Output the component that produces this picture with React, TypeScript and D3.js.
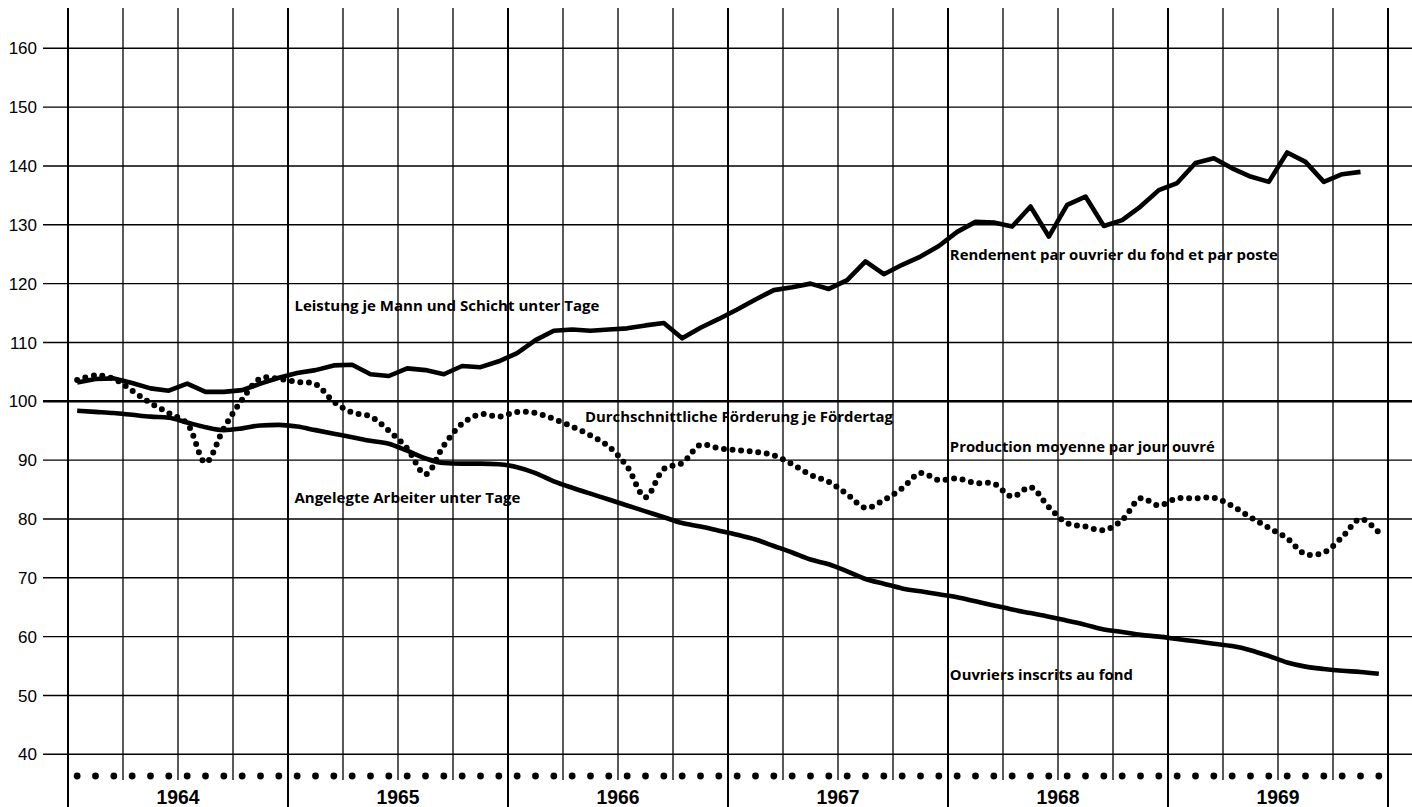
import React from "react";
import * as d3 from "d3";

const years = ["1964", "1965", "1966", "1967", "1968", "1969"];
const yTicks = [40, 50, 60, 70, 80, 90, 100, 110, 120, 130, 140, 150, 160];

// Leistung je Mann und Schicht unter Tage (Jan 1964 - Nov 1969)
const leistung = [
  103.2, 103.8, 103.9, 103.1, 102.2, 101.8, 103.0, 101.6, 101.6, 101.9, 103.0, 104.0,
  104.8, 105.3, 106.1, 106.2, 104.6, 104.3, 105.6, 105.3, 104.6, 106.0, 105.8, 106.8,
  108.2, 110.4, 112.0, 112.2, 112.0, 112.2, 112.4, 112.9, 113.3, 110.7, 112.5, 114.0,
  115.6, 117.3, 118.9, 119.4, 120.0, 119.1, 120.6, 123.8, 121.6, 123.2, 124.6, 126.4,
  128.8, 130.5, 130.4, 129.7, 133.1, 128.0, 133.4, 134.8, 129.8, 130.8, 133.1, 135.9,
  137.1, 140.5, 141.3, 139.6, 138.2, 137.3, 142.3, 140.7, 137.3, 138.6, 139.0,
];

// Angelegte Arbeiter unter Tage (Jan 1964 - Dec 1969)
const arbeiter = [
  98.4, 98.2, 98.0, 97.7, 97.4, 97.2, 96.4, 95.6, 95.1, 95.4, 95.9, 96.0,
  95.7, 95.1, 94.5, 93.9, 93.3, 92.8, 91.6, 90.3, 89.5, 89.4, 89.4, 89.3,
  88.8, 87.8, 86.4, 85.3, 84.3, 83.3, 82.3, 81.3, 80.3, 79.3, 78.7, 78.0,
  77.3, 76.5, 75.4, 74.3, 73.1, 72.3, 71.1, 69.8, 69.0, 68.2, 67.7, 67.2,
  66.7, 66.0, 65.3, 64.6, 64.0, 63.4, 62.7, 62.0, 61.2, 60.8, 60.3, 60.0,
  59.6, 59.2, 58.8, 58.4, 57.7, 56.7, 55.6, 54.9, 54.5, 54.2, 54.0, 53.7,
];

// Durchschnittliche Förderung je Fördertag (Jan 1964 - Dec 1969)
const foerderung = [
  103.6, 104.4, 103.8, 101.8, 99.7, 98.0, 96.2, 89.6, 95.4, 100.3, 103.9, 103.8,
  103.3, 102.9, 99.9, 98.1, 97.4, 95.0, 92.0, 87.6, 92.5, 96.2, 97.8, 97.4,
  98.2, 98.0, 97.0, 95.7, 94.2, 92.3, 88.9, 83.7, 88.5, 89.5, 92.6, 92.0,
  91.7, 91.4, 90.8, 89.3, 87.5, 86.3, 84.2, 81.9, 83.2, 85.2, 87.8, 86.6,
  86.9, 86.1, 86.0, 83.8, 85.4, 82.0, 79.3, 78.7, 78.1, 79.8, 83.5, 82.3,
  83.5, 83.5, 83.6, 82.2, 80.3, 78.5, 76.7, 74.0, 74.3, 76.9, 80.0, 77.7,
];

const labels = [
  { text: "Leistung je Mann und Schicht unter Tage", m: 12.35, v: 116.2, w: 305 },
  { text: "Rendement par ouvrier du fond et par poste", m: 48.1, v: 124.9, w: 328 },
  { text: "Durchschnittliche Förderung je Fördertag", m: 28.2, v: 97.3, w: 308 },
  { text: "Production moyenne par jour ouvré", m: 48.1, v: 92.2, w: 265 },
  { text: "Angelegte Arbeiter unter Tage", m: 12.35, v: 83.5, w: 226 },
  { text: "Ouvriers inscrits au fond", m: 48.1, v: 53.4, w: 183 },
];

const W = 1412;
const H = 807;

export default function App() {
  const x = d3.scaleLinear().domain([0, 72]).range([68, 1388]);
  const y = d3.scaleLinear().domain([40, 160]).range([754.3, 48.3]);

  const lineLinear = d3
    .line<number>()
    .x((_, i) => x(i + 0.5))
    .y((d) => y(d));
  const lineSmooth = d3
    .line<number>()
    .x((_, i) => x(i + 0.5))
    .y((d) => y(d))
    .curve(d3.curveMonotoneX);
  const lineDots = d3
    .line<number>()
    .x((_, i) => x(i + 0.5))
    .y((d) => y(d))
    .curve(d3.curveCatmullRom.alpha(0.5));

  const quarters = d3.range(0, 73, 3);
  const months = d3.range(0, 72);

  return (
    <svg
      width={W}
      height={H}
      style={{ position: "absolute", left: 0, top: 0, background: "#fff" }}
    >
      <rect x={0} y={0} width={W} height={H} fill="#fff" />
      {/* horizontal grid */}
      {yTicks.map((t) => (
        <g key={t}>
          <line
            x1={43}
            x2={W}
            y1={y(t)}
            y2={y(t)}
            stroke="#000"
            strokeWidth={t === 100 ? 2.6 : 1.4}
          />
          <text
            x={37}
            y={y(t)}
            dy="0.36em"
            textAnchor="end"
            fontFamily="'Liberation Sans', Arial, sans-serif"
            fontSize={17}
            fill="#000"
          >
            {t}
          </text>
        </g>
      ))}
      {/* vertical grid */}
      {quarters.map((q) => {
        const isYear = q % 12 === 0;
        return (
          <line
            key={q}
            x1={x(q)}
            x2={x(q)}
            y1={8}
            y2={isYear ? H : 780}
            stroke="#000"
            strokeWidth={isYear ? 2 : 1.3}
          />
        );
      })}
      {/* month dots */}
      {months.map((m) => (
        <circle key={m} cx={x(m + 0.5)} cy={776} r={3.4} fill="#000" />
      ))}
      {/* year labels */}
      {years.map((yr, i) => (
        <text
          key={yr}
          x={x(i * 12 + 6)}
          y={804}
          textAnchor="middle"
          fontFamily="'Liberation Sans', Arial, sans-serif"
          fontWeight="bold"
          fontSize={20}
          textLength={43}
          lengthAdjust="spacingAndGlyphs"
          fill="#000"
        >
          {yr}
        </text>
      ))}
      {/* series */}
      <path
        d={lineDots(foerderung) || ""}
        fill="none"
        stroke="#000"
        strokeWidth={6}
        strokeLinecap="round"
        strokeDasharray="0 8.6"
      />
      <path
        d={lineSmooth(arbeiter) || ""}
        fill="none"
        stroke="#000"
        strokeWidth={4.6}
        strokeLinejoin="round"
      />
      <path
        d={lineLinear(leistung) || ""}
        fill="none"
        stroke="#000"
        strokeWidth={4.6}
        strokeLinejoin="round"
      />
      {/* labels */}
      {labels.map((l) => (
        <text
          key={l.text}
          x={x(l.m)}
          y={y(l.v)}
          dy="0.35em"
          fontFamily="'Open Sans', Lato, sans-serif"
          fontWeight={700}
          fontSize={14}
          textLength={l.w}
          lengthAdjust="spacingAndGlyphs"
          fill="#000"
        >
          {l.text}
        </text>
      ))}
    </svg>
  );
}
